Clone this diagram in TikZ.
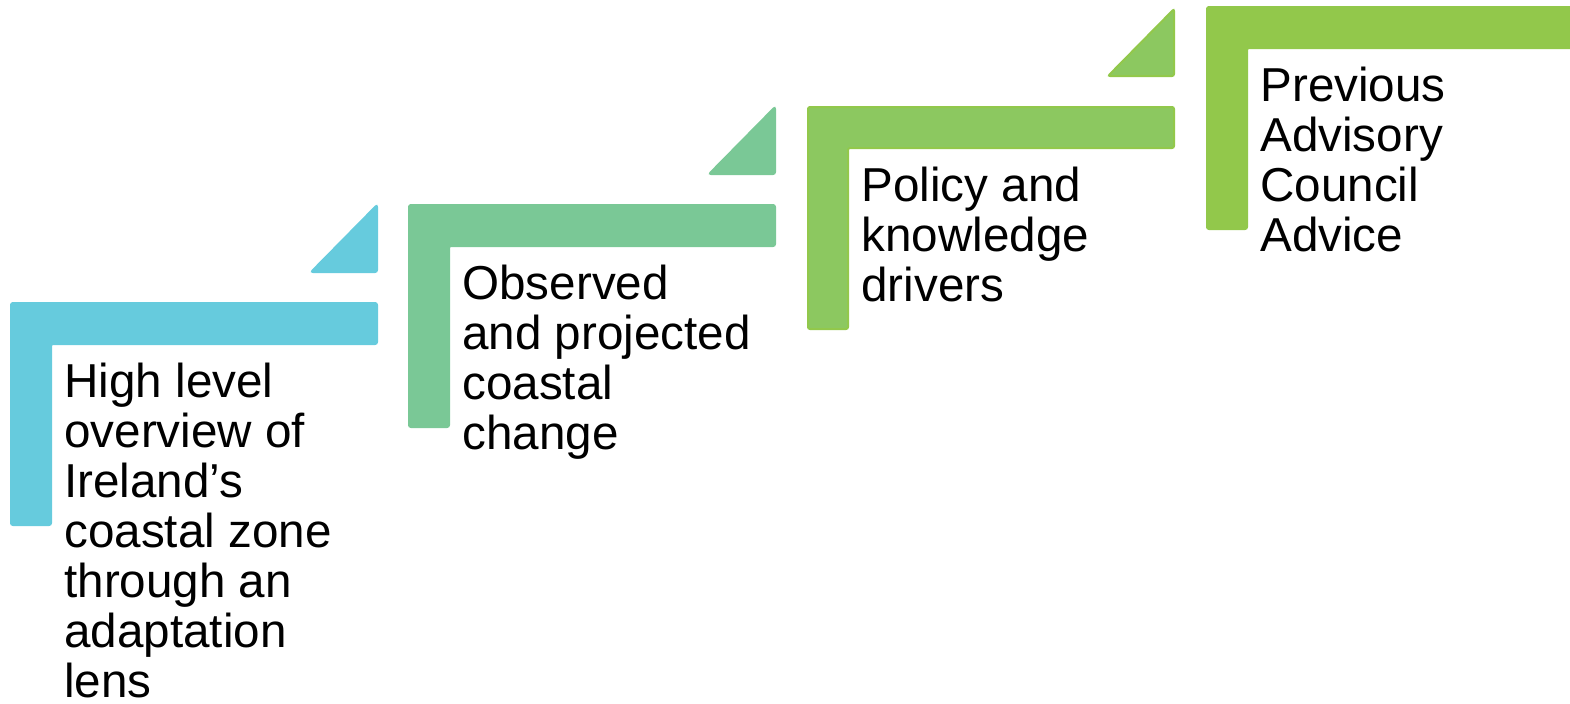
\documentclass[tikz,border=0pt]{standalone}
\usepackage{fontspec}
\setmainfont{Liberation Sans}
\definecolor{stepblue}{HTML}{66CBDD}
\definecolor{stepteal}{HTML}{7AC896}
\definecolor{steplime}{HTML}{8CC860}
\definecolor{stepgreen}{HTML}{92C84B}

\begin{document}
\begin{tikzpicture}[x=0.5pt,y=-0.5pt,
    stepshape/.style={fill=#1,rounded corners=1pt},
    steptext/.style={anchor=north west,inner sep=0pt,align=left,
      font=\fontsize{23.8}{25}\selectfont}]
  \useasboundingbox (0,0) rectangle (1570,703);
  \clip (0,0) rectangle (1570,703);

  % the four steps
  \foreach \x/\y/\c/\d in {11/303/stepblue/stepblue,409/205/stepteal/stepteal,
                           808/107/steplime/stepgreen,1207/7/stepgreen/stepgreen} {
    \filldraw[stepshape=\c,draw=\d,line width=1] (\x,\y) -- ++(366,0) -- ++(0,41)
      -- ++(-326,0) -- ++(0,181) -- ++(-40,0) -- cycle;
  }
  \foreach \x/\y/\c/\d in {11/303/stepblue/stepblue,409/205/stepteal/stepteal,
                           808/107/steplime/stepgreen} {
    \filldraw[stepshape=\c,draw=\d,line width=1] (\x+300,\y-31) -- (\x+366,\y-31)
      -- (\x+366,\y-98) -- cycle;
  }

  \node[steptext] (overview) at (64,363) {High level\\overview of\\Ireland’s\\coastal zone\\through an\\adaptation\\lens};
  \node[steptext] (change) at (462,265) {Observed\\and projected\\coastal\\change};
  \node[steptext] (drivers) at (861,167) {Policy and\\knowledge\\drivers};
  \node[steptext] (advice) at (1260,67) {Previous\\Advisory\\Council\\Advice};
\end{tikzpicture}
\end{document}
